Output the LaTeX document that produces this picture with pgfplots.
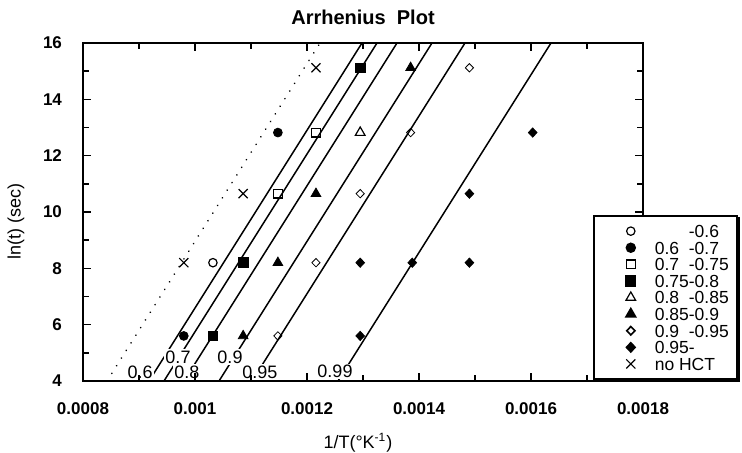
\documentclass[border=0pt]{standalone}
\usepackage{pgfplots}
\pgfplotsset{compat=1.18}
\usepackage{fontspec}
\setmainfont{Liberation Sans}

\pgfplotsset{
  mk/.style={only marks, mark options={black, line width=0.6pt},
    legend image code/.code={
      \path[draw=none, fill=none] (-15.5pt,0pt) (2.5pt,0pt);
      \draw[##1] plot coordinates {(0pt,0pt)};
    }},
  fitline/.style={black, line width=0.75pt, forget plot},
}
\newcommand{\legpad}[1]{\hspace*{8.5pt}#1}

\begin{document}
\begin{tikzpicture}
\begin{axis}[
  scale only axis, width=280pt, height=169pt,
  xmin=0.0008, xmax=0.0018, ymin=4, ymax=16,
  scaled x ticks=false,
  xtick={0.0008,0.001,0.0012,0.0014,0.0016,0.0018},
  xticklabels={0.0008,0.001,0.0012,0.0014,0.0016,0.0018},
  minor x tick num=1,
  ytick={4,6,8,10,12,14,16},
  yticklabels={4,6,8,10,12,14,16},
  minor y tick num=1,
  tick align=inside, major tick length=4pt, minor tick length=3pt,
  every tick/.style={black, line width=0.7pt},
  axis line style={line width=0.8pt},
  tick label style={font=\fontsize{8.5}{10}\selectfont\bfseries},
  xticklabel style={yshift=-7.5pt},
  yticklabel style={xshift=-7pt},
  clip=false, axis on top,
  legend cell align=left,
  legend style={name=leg, at={(0.9107,0.491)}, anchor=north west,
    draw=black, line width=0.8pt, fill=white,
    font=\fontsize{8.75}{9}\selectfont,
    inner xsep=3pt, inner ysep=4.5pt, row sep=2pt,
    nodes={inner xsep=1pt, inner ysep=0pt, text height=6.3pt, text depth=0pt}},
]

% iso-fraction lines
\addplot[black, line width=0.9pt, dash pattern=on 0.01pt off 4.5pt, line cap=round, forget plot]
  coordinates {(0.0008429,4)(0.0012232,16)};
\addplot[fitline] coordinates {(0.0009179,4)(0.0012982,16)};
\addplot[fitline] coordinates {(0.0009446,4)(0.0013250,16)};
\addplot[fitline] coordinates {(0.0009804,4)(0.0013607,16)};
\addplot[fitline] coordinates {(0.0010429,4)(0.0014232,16)};
\addplot[fitline] coordinates {(0.0011018,4)(0.0014821,16)};
\addplot[fitline] coordinates {(0.0012554,4)(0.0016357,16)};

% measured points
\addplot[mk, mark=o, mark size=2.1pt] coordinates {(0.001032,8.2)};
\addlegendentry{\legpad{\phantom{0.75}-0.6}}
\addplot[mk, mark=*, mark size=2.2pt, mark options={fill=black}] coordinates {(0.00098,5.6)(0.001148,12.82)};
\addlegendentry{\legpad{0.6\phantom{5}-0.7}}
\addplot[mk, mark=square, mark size=2.2pt] coordinates {(0.001148,10.65)(0.001216,12.82)};
\addlegendentry{\legpad{0.7\phantom{5}-0.75}}
\addplot[mk, mark=square*, mark size=2.4pt, mark options={fill=black}] coordinates {(0.001032,5.6)(0.001086,8.2)(0.001295,15.12)};
\addlegendentry{\legpad{0.75-0.8}}
\addplot[mk, mark=triangle, mark size=2.8pt] coordinates {(0.001295,12.82)};
\addlegendentry{\legpad{0.8\phantom{5}-0.85}}
\addplot[mk, mark=triangle*, mark size=2.8pt, mark options={fill=black}] coordinates {(0.001086,5.6)(0.001148,8.2)(0.001216,10.65)(0.001385,15.12)};
\addlegendentry{\legpad{0.85-0.9}}
\addplot[mk, mark=diamond, mark size=2.1pt, mark options={xscale=1.3}] coordinates {(0.001148,5.6)(0.001216,8.2)(0.001295,10.65)(0.001385,12.82)(0.00149,15.12)};
\addlegendentry{\legpad{0.9\phantom{5}-0.95}}
\addplot[mk, mark=diamond*, mark size=2.3pt, mark options={fill=black, xscale=1.25}] coordinates {(0.001295,5.6)(0.001295,8.2)(0.001388,8.2)(0.00149,8.2)(0.00149,10.65)(0.001603,12.82)};
\addlegendentry{\legpad{0.95-}}
\addplot[mk, mark=x, mark size=3.2pt] coordinates {(0.00098,8.2)(0.001086,10.65)(0.001216,15.12)};
\addlegendentry{\legpad{no HCT}}

% line labels
\begin{scope}[every node/.style={fill=white, inner sep=0.6pt, font=\fontsize{9}{10}\selectfont}]
\node at (axis cs:0.000902,4.32) {0.6};
\node at (axis cs:0.00096964,4.85) {0.7};
\node at (axis cs:0.0009857,4.32) {0.8};
\node at (axis cs:0.0010625,4.85) {0.9};
\node at (axis cs:0.001116,4.32) {0.95};
\node at (axis cs:0.00125,4.35) {0.99};
\end{scope}

\node[font=\fontsize{10}{12}\selectfont\bfseries, anchor=base, yshift=9pt] at (rel axis cs:0.5,1) {Arrhenius\ \ Plot};
\node[font=\fontsize{9}{10}\selectfont, anchor=base, yshift=-34pt] at (rel axis cs:0.491,0) {1/T(°K\textsuperscript{-1})};
\node[font=\fontsize{9}{10}\selectfont, rotate=90] at (rel axis cs:-0.1196,0.473) {ln(t) (sec)};
\end{axis}
% legend shadow along the lower and right edges
\draw[line width=1.6pt] ([xshift=1.2pt,yshift=-0.4pt]leg.south west) -- ([xshift=0.4pt,yshift=-0.4pt]leg.south east) -- ([xshift=0.4pt,yshift=-1.2pt]leg.north east);
\pgfresetboundingbox
\path[use as bounding box] ([xshift=-41.5pt,yshift=-36pt]current axis.south west) rectangle ([xshift=49.5pt,yshift=21.5pt]current axis.north east);
\end{tikzpicture}
\end{document}
